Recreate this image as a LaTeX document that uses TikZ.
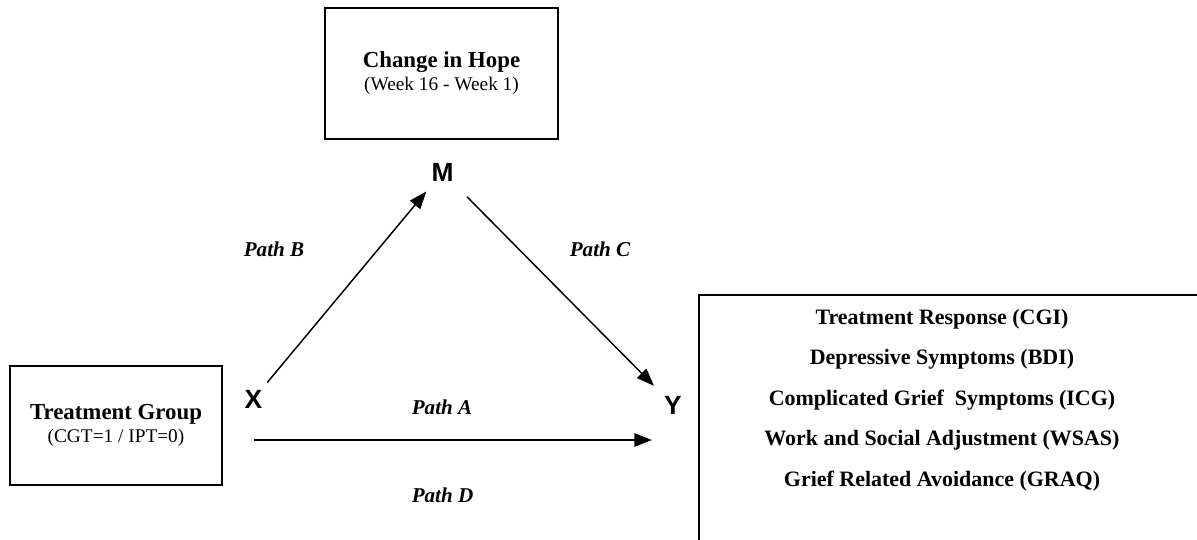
\documentclass[tikz,border=0pt]{standalone}
\usepackage{fontspec}
\setmainfont{Liberation Serif}
\newfontfamily\lettersans{Liberation Sans}
\usetikzlibrary{arrows.meta}

\begin{document}
\begin{tikzpicture}[x=0.02cm, y=-0.02cm,
		varbox/.style={draw, line width=1.2pt, align=center, inner sep=0pt,
			font=\bfseries\fontsize{13}{13}\selectfont},
		sub/.style={},
		letter/.style={font=\lettersans\bfseries\fontsize{15}{15}\selectfont},
		pathlabel/.style={font=\bfseries\itshape\fontsize{12}{14}\selectfont},
		arr/.style={-{Triangle[length=10pt,width=7.5pt]}, line width=0.85pt}]
		\clip (0,0) rectangle (1197,539);
		% mediator, predictor and outcomes
		\node[varbox, minimum width=132.6pt, minimum height=74.6pt] (hope) at (441.5,73.5)
			{Change in Hope\\{\mdseries\fontsize{11}{13}\selectfont (Week 16 - Week 1)}};
		\node[varbox, minimum width=120.6pt, minimum height=67.7pt] (group) at (116,425.5)
			{Treatment Group\\{\mdseries\fontsize{11}{13}\selectfont (CGT=1 / IPT=0)}};
		\draw[line width=1pt] (699,295) rectangle (1230,570);
		\node[align=center, font=\bfseries\fontsize{12.5}{23}\selectfont] (outcomes) at (942,400)
			{Treatment Response (CGI)\\Depressive Symptoms (BDI)\\Complicated Grief\ \ Symptoms (ICG)\\
			 Work and Social Adjustment (WSAS)\\Grief Related Avoidance (GRAQ)};
		\node[letter] (m) at (442.5,172) {M};
		\node[letter] (x) at (253.5,399) {X};
		\node[letter] (y) at (673,405) {Y};
		% paths
		\node[pathlabel] (pb) at (274,249) {Path B};
		\node[pathlabel] (pc) at (600,249) {Path C};
		\node[pathlabel] (pa) at (442,407) {Path A};
		\node[pathlabel] (pd) at (442.5,495) {Path D};
		\coordinate (a0) at (254,440);
		\coordinate (a1) at (652,440);
		\draw[arr, shorten <=12.3pt, shorten >=14.4pt] (x.center) -- (m.center);
		\draw[arr, shorten <=19.9pt, shorten >=15.4pt] (m.center) -- (y.center);
		\draw[arr, line width=1.15pt] (a0) -- (a1);
	\end{tikzpicture}
\end{document}
